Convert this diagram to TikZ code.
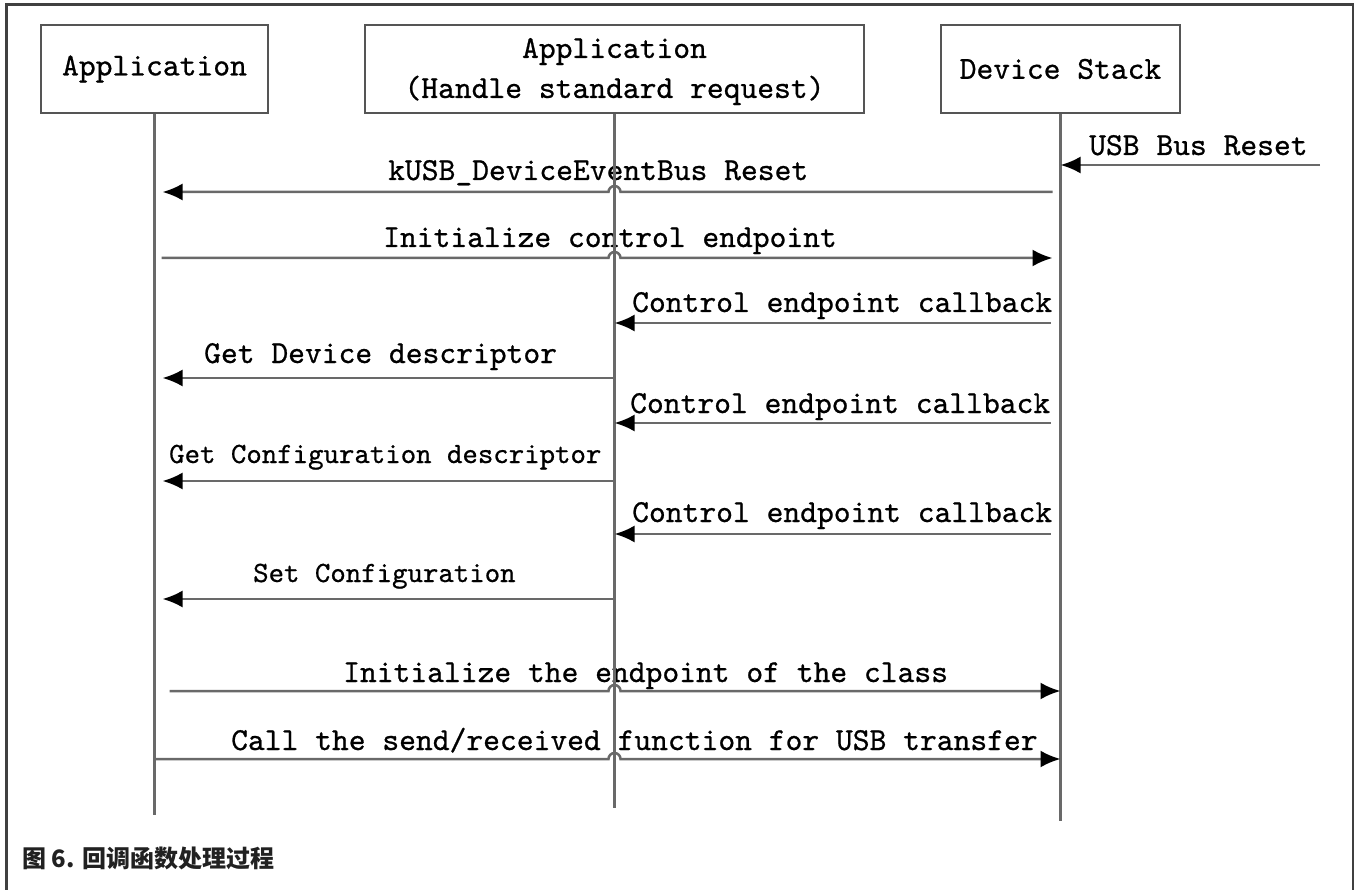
\documentclass[tikz,border=0pt]{standalone}
\usepackage{fontspec}
\newfontfamily\cjk{Noto Sans CJK SC}
\newfontfamily\diafont{lmmono10-regular.otf}[FakeBold=0.7]
\usetikzlibrary{arrows.meta}
\usetikzlibrary{calc}
\usetikzlibrary{positioning}

\definecolor{framegray}{RGB}{64,64,64}
\definecolor{boxgray}{RGB}{85,85,85}
\definecolor{linegray}{RGB}{105,105,105}

\tikzset{
  lane/.style={draw=boxgray, line width=2.5pt, minimum height=88pt, inner sep=0pt,
    align=center, font=\diafont\fontsize{32}{40}\selectfont},
  lifeline/.style={draw=linegray, line width=2.5pt},
  msg/.style={draw=linegray, line width=2.5pt, -{Latex[length=20pt,width=17pt,color=black]}},
  lbl/.style={anchor=base west, inner sep=0pt, font=\diafont\fontsize{32}{40}\selectfont},
  lblsmall/.style={lbl, font=\diafont\fontsize{29.4}{36}\selectfont},
}

\begin{document}
\begin{tikzpicture}[x=1pt, y=-1pt]
  \useasboundingbox (0,0) rectangle (1354,890);
  \draw[framegray, line width=3pt] (6,890) -- (6,5) -- (1353,5) -- (1353,890);

  % participants
  \node[lane, minimum width=227pt] (app) at (154.5,69) {Application};
  \node[lane, minimum width=499pt, text height=65pt] (apph) at (614.5,69) {Application\\(Handle standard request)};
  \node[lane, minimum width=239pt] (stack) at (1060.5,69) {Device Stack};

  % labels
  \node[lbl] (lreset) at (1089,155) {USB Bus Reset};
  \node[lbl] (levent) at (388,180) {kUSB\_DeviceEventBus Reset};
  \node[lbl] (linit) at (383,247) {Initialize control endpoint};
  \foreach \b/\x in {312/632, 413/630, 522/632}
    \node[lbl] (lcb\b) at (\x,\b) {Control endpoint callback};
  \node[lbl] (ldev) at (204,363) {Get Device descriptor};
  \node[lblsmall] (lconf) at (169,463) {Get Configuration descriptor};
  \node[lblsmall] (lset) at (253,582) {Set Configuration};
  \node[lbl] (lclass) at (343,682) {Initialize the endpoint of the class};
  \node[lbl] (lcall) at (231,750) {Call the send/received function for USB transfer};

  % lifelines
  \coordinate (append) at (app |- 0,815);
  \coordinate (apphend) at (apph |- 0,808);
  \coordinate (stackend) at (stack |- 0,821);
  \draw[lifeline] (app.south) -- (append);
  \draw[lifeline] (apph.south) -- (apphend);
  \draw[lifeline] (stack.south) -- (stackend);

  % messages
  \coordinate (busin) at (1320,165);
  \draw[msg] (busin) -- (stack |- busin);
  \draw[msg, shorten <=8pt, shorten >=8pt] (stack |- 0,192)
    -- ($(apph |- 0,192)+(6,0)$) arc[start angle=0, end angle=-180, radius=6] -- (app |- 0,192);
  \draw[msg, shorten <=7pt, shorten >=8pt] (app |- 0,258)
    -- ($(apph |- 0,258)+(-6,0)$) arc[start angle=180, end angle=360, radius=6] -- (stack |- 0,258);
  \foreach \y in {323, 423, 534}
    \draw[msg, shorten <=10pt] (stack |- 0,\y) -- (apph |- 0,\y);
  \foreach \y in {378, 481, 599}
    \draw[msg, shorten >=8pt] (apph |- 0,\y) -- (app |- 0,\y);
  \draw[msg, shorten <=15pt] (app |- 0,691)
    -- ($(apph |- 0,691)+(-6,0)$) arc[start angle=180, end angle=360, radius=6] -- (stack |- 0,691);
  \draw[msg] (app |- 0,759)
    -- ($(apph |- 0,759)+(-6,0)$) arc[start angle=180, end angle=360, radius=6] -- (stack |- 0,759);

  \node[anchor=base west, inner sep=0pt, text=black!87, font=\cjk\bfseries\fontsize{24}{30}\selectfont]
    (caption) at (22,867) {图 6. 回调函数处理过程};
\end{tikzpicture}
\end{document}
